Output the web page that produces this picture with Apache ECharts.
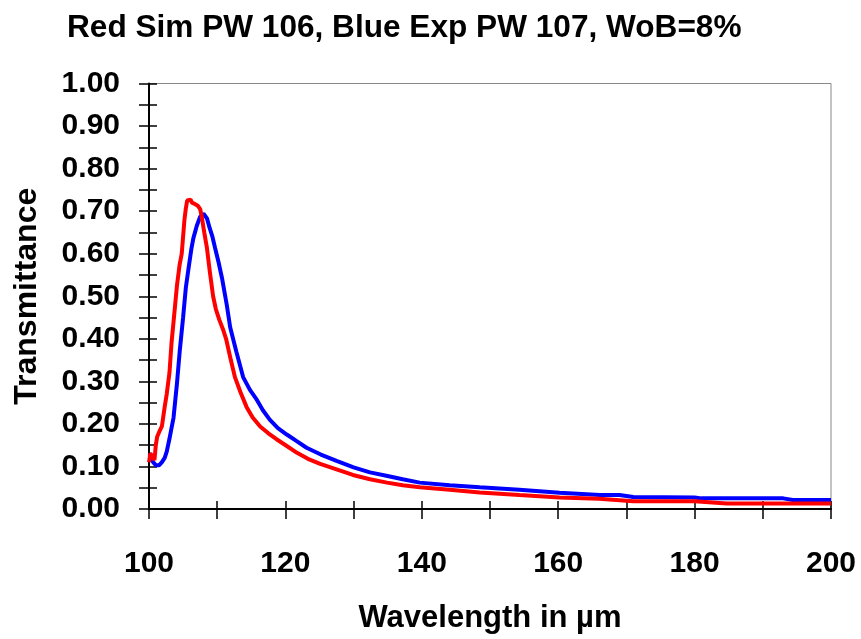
<!DOCTYPE html>
<html>
<head>
<meta charset="utf-8">
<script src="https://cdn.jsdelivr.net/npm/echarts@6/dist/echarts.min.js"></script>
<style>
html,body{margin:0;padding:0;background:#fff;}
#chart{width:861px;height:639px;}
</style>
</head>
<body>
<div id="chart"></div>
<script>
const titleText = "Red Sim PW 106, Blue Exp PW 107, WoB=8%";
const xName = "Wavelength in µm";
const yName = "Transmittance";

const redX = [100.0,100.2,100.5,100.8,101.0,101.2,101.6,101.9,102.3,102.6,103.0,103.3,103.6,104.1,104.5,104.8,105.0,105.2,105.4,105.6,105.8,106.1,106.3,106.7,107.2,107.5,107.7,108.1,108.5,108.9,109.4,109.8,110.3,110.9,111.3,112.0,112.6,113.4,114.3,115.2,116.3,117.5,118.7,120.2,121.7,123.3,125.1,127.5,129.9,132.4,134.9,137.2,139.7,144.1,148.5,154.3,160.2,166.0,171.0,180.0,184.7,200.0];
const redY = [0.110,0.130,0.125,0.115,0.150,0.170,0.185,0.195,0.240,0.270,0.320,0.390,0.440,0.525,0.575,0.600,0.640,0.680,0.706,0.725,0.728,0.727,0.720,0.717,0.712,0.705,0.690,0.650,0.613,0.560,0.500,0.470,0.445,0.420,0.400,0.350,0.310,0.275,0.240,0.215,0.194,0.178,0.164,0.148,0.132,0.118,0.106,0.093,0.080,0.070,0.062,0.056,0.051,0.045,0.039,0.033,0.027,0.024,0.018,0.018,0.013,0.013];

const blueX = [100.0,100.3,100.6,101.0,101.5,101.9,102.3,102.6,103.0,103.3,103.6,104.1,104.5,105.0,105.4,105.8,106.2,106.5,107.0,107.5,108.0,108.5,108.9,109.3,109.7,110.2,110.7,111.4,111.9,112.8,113.8,114.8,115.8,116.7,117.7,118.9,120.2,121.6,123.1,125.2,127.5,130.0,132.4,134.8,137.2,139.7,144.1,148.5,154.3,160.2,166.1,169.0,171.0,180.0,181.0,193.0,194.4,200.0];
const blueY = [0.130,0.125,0.110,0.103,0.103,0.110,0.120,0.135,0.165,0.190,0.215,0.295,0.370,0.450,0.520,0.566,0.610,0.636,0.665,0.687,0.694,0.683,0.660,0.640,0.613,0.580,0.543,0.480,0.427,0.370,0.310,0.280,0.257,0.232,0.210,0.190,0.175,0.160,0.144,0.128,0.113,0.098,0.086,0.078,0.070,0.062,0.056,0.051,0.045,0.038,0.033,0.033,0.028,0.027,0.025,0.025,0.021,0.021];

const xMin = 100, xMax = 200, xStep = 20;
const yMin = 0, yMax = 1, yStep = 0.1;

const FONT = '"Liberation Sans", Arial, sans-serif';
const chart = echarts.init(document.getElementById('chart'), null, {renderer:'canvas'});

function pairs(xs, ys){ return xs.map((x,i)=>[x, ys[i]]); }

const tickStyle = {color:'#000', width:1.5};
chart.setOption({
  animation:false,
  backgroundColor:'#fff',
  title:{
    text:titleText, left:62, top:7,
    textStyle:{fontFamily:FONT, fontWeight:'bold', fontSize:31.6, color:'#000'}
  },
  grid:{left:149, right:30, top:83.5, bottom:125.5, show:true, borderColor:'#888', borderWidth:1, backgroundColor:'#fff'},
  xAxis:[
    {type:'value', min:xMin, max:xMax, interval:xStep, gridIndex:0, position:'bottom',
     name:xName, nameLocation:'middle', nameGap:94,
     nameTextStyle:{fontFamily:FONT, fontWeight:'bold', fontSize:31, color:'#000'},
     axisLine:{show:true, onZero:false, lineStyle:{color:'#000', width:2}},
     axisTick:{show:true, inside:false, length:10, lineStyle:tickStyle},
     minorTick:{show:true, splitNumber:2, length:10, lineStyle:tickStyle},
     axisLabel:{margin:40, fontFamily:FONT, fontWeight:'bold', fontSize:30, color:'#000', formatter:v=>String(Math.round(v))},
     splitLine:{show:false}},
    {type:'value', min:xMin, max:xMax, interval:xStep, gridIndex:0, position:'bottom',
     axisLine:{show:false, onZero:false},
     axisTick:{show:true, inside:true, length:8, lineStyle:tickStyle},
     minorTick:{show:true, splitNumber:2, length:8, lineStyle:tickStyle},
     axisLabel:{show:false}, splitLine:{show:false}}
  ],
  yAxis:[
    {type:'value', min:yMin, max:yMax, interval:yStep, gridIndex:0, position:'left',
     name:yName, nameLocation:'middle', nameGap:106,
     nameTextStyle:{fontFamily:FONT, fontWeight:'bold', fontSize:32, color:'#000'},
     axisLine:{show:true, onZero:false, lineStyle:{color:'#000', width:2}},
     axisTick:{show:true, inside:false, length:10, lineStyle:tickStyle},
     minorTick:{show:true, splitNumber:2, length:10, lineStyle:tickStyle},
     axisLabel:{margin:29, fontFamily:FONT, fontWeight:'bold', fontSize:30, color:'#000', formatter:v=>v.toFixed(2)},
     splitLine:{show:false}},
    {type:'value', min:yMin, max:yMax, interval:yStep, gridIndex:0, position:'left',
     axisLine:{show:false, onZero:false},
     axisTick:{show:true, inside:true, length:8, lineStyle:tickStyle},
     minorTick:{show:true, splitNumber:2, length:8, lineStyle:tickStyle},
     axisLabel:{show:false}, splitLine:{show:false}}
  ],
  series:[
    {name:'Exp PW 107', type:'line', xAxisIndex:0, yAxisIndex:0, data:pairs(blueX, blueY),
     showSymbol:false, symbol:'none', lineStyle:{color:'#0000ff', width:4}, z:3},
    {name:'Sim PW 106', type:'line', xAxisIndex:0, yAxisIndex:0, data:pairs(redX, redY),
     showSymbol:false, symbol:'none', lineStyle:{color:'#ff0000', width:4}, z:4}
  ]
});
</script>
</body>
</html>
